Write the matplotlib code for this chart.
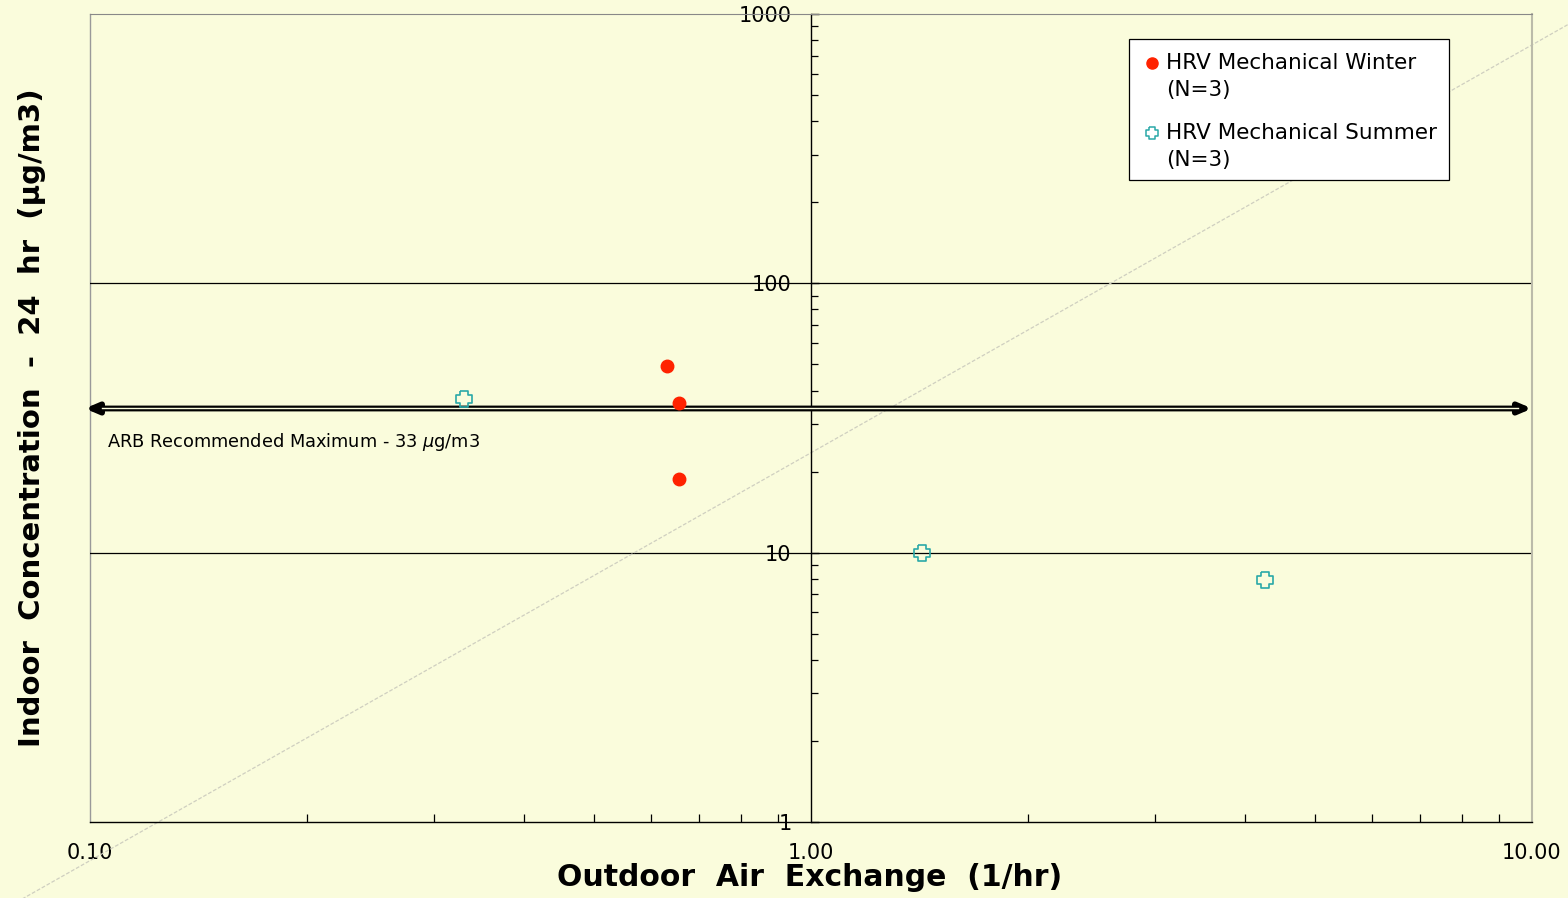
import matplotlib
matplotlib.use("Agg")
import matplotlib.pyplot as plt
from matplotlib.ticker import LogLocator, FixedLocator, NullFormatter
from matplotlib.patches import Rectangle

# ---- data ----
winter_x = [0.632, 0.655, 0.655]
winter_y = [49.3, 35.8, 18.8]
summer_x = [0.330, 1.427, 4.26]
summer_y = [37.3, 10.0, 7.9]
arb_max = 33
arb_line_y = 34.3
arb_line_x = [0.0984, 10.0]
ref_line_x = [0.075, 12.0]
ref_line_y = [0.465, 1012.0]
x_ticks = [0.1, 1.0, 10.0]
x_ticklabels = ["0.10", "1.00", "10.00"]
y_ticks = [1, 10, 100, 1000]
y_ticklabels = ["1", "10", "100", "1000"]
legend_labels = ["HRV Mechanical Winter\n(N=3)", "HRV Mechanical Summer\n(N=3)"]

BG = "#FAFCDC"
RED = "#FF2200"
TEAL = "#2AA8A8"

# notched-square marker (as in the reference)
a, n = 0.55, 0.5
NOTCH = [(-a, 1), (a, 1), (a, n), (1, n), (1, -n), (a, -n), (a, -1), (-a, -1),
         (-a, -n), (-1, -n), (-1, n), (-a, n), (-a, 1)]

W, H = 1568, 898
fig = plt.figure(figsize=(W / 100, H / 100), dpi=100, facecolor=BG)
ax = fig.add_axes([90 / W, 1 - 822 / H, (1532 - 90) / W, (822 - 14) / H])
ax.set_facecolor(BG)
ax.set_xscale("log")
ax.set_yscale("log")
ax.set_xlim(0.1, 10)
ax.set_ylim(1, 1000)

# spines
ax.spines["left"].set_position(("data", 1.0))
ax.spines["left"].set_color("black")
ax.spines["left"].set_linewidth(1.0)
ax.spines["bottom"].set_color("black")
ax.spines["bottom"].set_linewidth(1.0)
ax.spines["top"].set_color("#888888")
ax.spines["right"].set_color("#BBBBAA")
ax.spines["right"].set_linewidth(1.5)
ax.plot([0, 0], [0, 1], transform=ax.transAxes, color="#999999", lw=1.0, clip_on=False, zorder=1)

# gridlines
for gy in [10, 100]:
    ax.axhline(gy, color="black", lw=0.9, zorder=1)

# ticks
ax.xaxis.set_major_locator(FixedLocator(x_ticks))
ax.set_xticklabels(x_ticklabels)
ax.xaxis.set_minor_locator(LogLocator(base=10, subs=range(2, 10)))
ax.xaxis.set_minor_formatter(NullFormatter())
ax.yaxis.set_major_locator(FixedLocator(y_ticks))
ax.set_yticklabels(y_ticklabels)
ax.yaxis.set_minor_locator(LogLocator(base=10, subs=range(2, 10)))
ax.yaxis.set_minor_formatter(NullFormatter())
ax.tick_params(axis="x", which="major", direction="in", length=0, pad=15, labelsize=15)
ax.tick_params(axis="x", which="minor", direction="in", length=6, width=0.9)
ax.tick_params(axis="y", which="major", direction="in", length=6, width=1.0, pad=14, labelsize=15)
ax.tick_params(axis="y", which="minor", direction="in", length=5, width=0.9)

# reference diagonal
ax.plot(ref_line_x, ref_line_y, color="#CFCFC0", lw=0.9, ls=(0, (3, 1.5)), clip_on=False, zorder=2)

# ARB arrow (double line)
ax.annotate("", xy=(arb_line_x[1], arb_line_y), xytext=(arb_line_x[0], arb_line_y),
            xycoords="data", textcoords="data",
            arrowprops=dict(arrowstyle="<|-|>,head_length=0.7,head_width=0.3",
                            lw=4.2, color="black", shrinkA=0, shrinkB=0),
            annotation_clip=False, zorder=3)
ax.plot([0.104, 9.55], [arb_line_y, arb_line_y], color=BG, lw=1.0, clip_on=False, zorder=4)
ax.text(0.1 * 10 ** (17 / 721), 10 ** ((822 - 442) / 269),
        r"ARB Recommended Maximum - %d $\mathit{\mu}$g/m3" % arb_max,
        fontsize=12.8, ha="left", va="center", zorder=5)

# points
ax.plot(winter_x, winter_y, ls="none", marker="o", ms=9, color=RED, mec=RED, zorder=6)
ax.plot(summer_x, summer_y, ls="none", marker=NOTCH, ms=11.5, mfc="none", mec=TEAL, mew=1.2, zorder=6)

# legend (drawn manually to match the reference layout)
fig.add_artist(Rectangle((1129 / W, 1 - 180 / H), 320 / W, 141 / H, transform=fig.transFigure,
                         facecolor="white", edgecolor="black", lw=0.9, zorder=10))
leg_styles = [dict(marker="o", ms=8, color=RED, mec=RED),
              dict(marker=NOTCH, ms=9, mfc="none", mec=TEAL, mew=1.1)]
for i, (lab, st) in enumerate(zip(legend_labels, leg_styles)):
    y0 = 63 + 70 * i
    fig.add_artist(plt.Line2D([1152 / W], [1 - y0 / H], transform=fig.transFigure, ls="none",
                              zorder=11, **st))
    for j, line in enumerate(lab.split("\n")):
        fig.text(1166 / W, 1 - (y0 + 27 * j) / H, line, fontsize=15.5, ha="left", va="center",
                 zorder=11)

# axis labels
fig.text(810 / W, 1 - 878 / H, "Outdoor  Air  Exchange  (1/hr)", fontsize=21.5, fontweight="bold",
         ha="center", va="center")
fig.text(32 / W, 1 - 418 / H, "Indoor  Concentration  -  24  hr  (µg/m3)", fontsize=21,
         fontweight="bold", rotation=90, ha="center", va="center")

fig.savefig("out.png", dpi=100, facecolor=BG)
